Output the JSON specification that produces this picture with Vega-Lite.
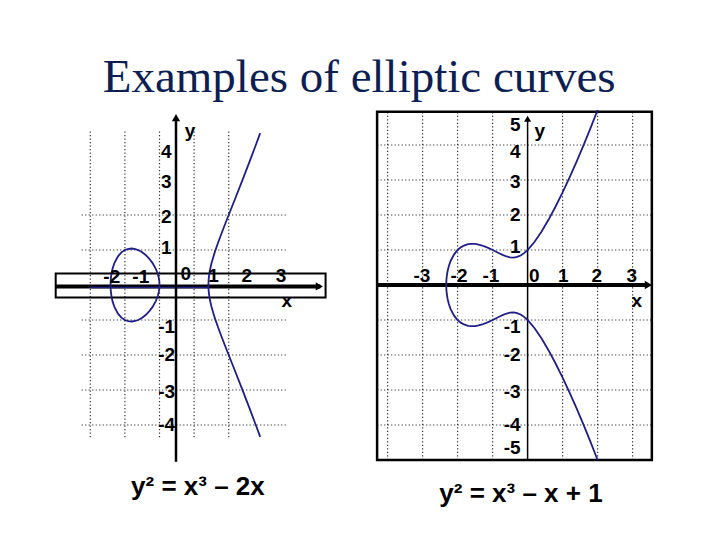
{
  "$schema": "https://vega.github.io/schema/vega-lite/v6.json",
  "width": 720,
  "height": 540,
  "autosize": {"type": "fit", "contains": "padding"},
  "padding": 0,
  "background": "white",
  "config": {
    "view": {"stroke": null},
    "text": {"font": "Liberation Sans", "fontWeight": "bold", "fontSize": 19, "color": "black"}
  },
  "datasets": {
    "curveL": [
      {"p": "oval", "i": 0, "x": -1.4142, "y": 0},
      {"p": "oval", "i": 1, "x": -1.41, "y": 0.1295},
      {"p": "oval", "i": 2, "x": -1.4, "y": 0.2366},
      {"p": "oval", "i": 3, "x": -1.38, "y": 0.3632},
      {"p": "oval", "i": 4, "x": -1.35, "y": 0.4895},
      {"p": "oval", "i": 5, "x": -1.3, "y": 0.6348},
      {"p": "oval", "i": 6, "x": -1.2, "y": 0.8198},
      {"p": "oval", "i": 7, "x": -1.1, "y": 0.9322},
      {"p": "oval", "i": 8, "x": -1.0, "y": 1.0},
      {"p": "oval", "i": 9, "x": -0.9, "y": 1.0349},
      {"p": "oval", "i": 10, "x": -0.8, "y": 1.0431},
      {"p": "oval", "i": 11, "x": -0.7, "y": 1.0281},
      {"p": "oval", "i": 12, "x": -0.6, "y": 0.992},
      {"p": "oval", "i": 13, "x": -0.5, "y": 0.9354},
      {"p": "oval", "i": 14, "x": -0.4, "y": 0.8579},
      {"p": "oval", "i": 15, "x": -0.3, "y": 0.757},
      {"p": "oval", "i": 16, "x": -0.2, "y": 0.6261},
      {"p": "oval", "i": 17, "x": -0.1, "y": 0.4461},
      {"p": "oval", "i": 18, "x": -0.05, "y": 0.316},
      {"p": "oval", "i": 19, "x": -0.02, "y": 0.2},
      {"p": "oval", "i": 20, "x": -0.005, "y": 0.1},
      {"p": "oval", "i": 21, "x": 0, "y": 0},
      {"p": "oval", "i": 22, "x": -0.005, "y": -0.1},
      {"p": "oval", "i": 23, "x": -0.02, "y": -0.2},
      {"p": "oval", "i": 24, "x": -0.05, "y": -0.316},
      {"p": "oval", "i": 25, "x": -0.1, "y": -0.4461},
      {"p": "oval", "i": 26, "x": -0.2, "y": -0.6261},
      {"p": "oval", "i": 27, "x": -0.3, "y": -0.757},
      {"p": "oval", "i": 28, "x": -0.4, "y": -0.8579},
      {"p": "oval", "i": 29, "x": -0.5, "y": -0.9354},
      {"p": "oval", "i": 30, "x": -0.6, "y": -0.992},
      {"p": "oval", "i": 31, "x": -0.7, "y": -1.0281},
      {"p": "oval", "i": 32, "x": -0.8, "y": -1.0431},
      {"p": "oval", "i": 33, "x": -0.9, "y": -1.0349},
      {"p": "oval", "i": 34, "x": -1.0, "y": -1.0},
      {"p": "oval", "i": 35, "x": -1.1, "y": -0.9322},
      {"p": "oval", "i": 36, "x": -1.2, "y": -0.8198},
      {"p": "oval", "i": 37, "x": -1.3, "y": -0.6348},
      {"p": "oval", "i": 38, "x": -1.35, "y": -0.4895},
      {"p": "oval", "i": 39, "x": -1.38, "y": -0.3632},
      {"p": "oval", "i": 40, "x": -1.4, "y": -0.2366},
      {"p": "oval", "i": 41, "x": -1.41, "y": -0.1295},
      {"p": "oval", "i": 42, "x": -1.4142, "y": 0},
      {"p": "branch", "i": 0, "x": 2.91, "y": -4.3385},
      {"p": "branch", "i": 1, "x": 2.8, "y": -4.0438},
      {"p": "branch", "i": 2, "x": 2.6, "y": -3.518},
      {"p": "branch", "i": 3, "x": 2.4, "y": -3.004},
      {"p": "branch", "i": 4, "x": 2.2, "y": -2.4996},
      {"p": "branch", "i": 5, "x": 2.0, "y": -2.0},
      {"p": "branch", "i": 6, "x": 1.9, "y": -1.749},
      {"p": "branch", "i": 7, "x": 1.8, "y": -1.494},
      {"p": "branch", "i": 8, "x": 1.7, "y": -1.23},
      {"p": "branch", "i": 9, "x": 1.6, "y": -0.9466},
      {"p": "branch", "i": 10, "x": 1.5, "y": -0.6124},
      {"p": "branch", "i": 11, "x": 1.45, "y": -0.3855},
      {"p": "branch", "i": 12, "x": 1.43, "y": -0.2534},
      {"p": "branch", "i": 13, "x": 1.42, "y": -0.1526},
      {"p": "branch", "i": 14, "x": 1.415, "y": -0.0561},
      {"p": "branch", "i": 15, "x": 1.4142, "y": 0},
      {"p": "branch", "i": 16, "x": 1.415, "y": 0.0561},
      {"p": "branch", "i": 17, "x": 1.42, "y": 0.1526},
      {"p": "branch", "i": 18, "x": 1.43, "y": 0.2534},
      {"p": "branch", "i": 19, "x": 1.45, "y": 0.3855},
      {"p": "branch", "i": 20, "x": 1.5, "y": 0.6124},
      {"p": "branch", "i": 21, "x": 1.6, "y": 0.9466},
      {"p": "branch", "i": 22, "x": 1.7, "y": 1.23},
      {"p": "branch", "i": 23, "x": 1.8, "y": 1.494},
      {"p": "branch", "i": 24, "x": 1.9, "y": 1.749},
      {"p": "branch", "i": 25, "x": 2.0, "y": 2.0},
      {"p": "branch", "i": 26, "x": 2.2, "y": 2.4996},
      {"p": "branch", "i": 27, "x": 2.4, "y": 3.004},
      {"p": "branch", "i": 28, "x": 2.6, "y": 3.518},
      {"p": "branch", "i": 29, "x": 2.8, "y": 4.0438},
      {"p": "branch", "i": 30, "x": 2.91, "y": 4.3385}
    ],
    "curveR": [
      {"i": 0, "x": 2.0, "y": -5.0},
      {"i": 1, "x": 1.8, "y": -4.4891},
      {"i": 2, "x": 1.6, "y": -3.997},
      {"i": 3, "x": 1.4, "y": -3.5248},
      {"i": 4, "x": 1.2, "y": -3.0737},
      {"i": 5, "x": 1.0, "y": -2.6458},
      {"i": 6, "x": 0.8, "y": -2.2432},
      {"i": 7, "x": 0.6, "y": -1.8698},
      {"i": 8, "x": 0.4, "y": -1.531},
      {"i": 9, "x": 0.2, "y": -1.2361},
      {"i": 10, "x": 0.0, "y": -1.0},
      {"i": 11, "x": -0.1, "y": -0.9105},
      {"i": 12, "x": -0.2, "y": -0.8438},
      {"i": 13, "x": -0.3, "y": -0.8019},
      {"i": 14, "x": -0.4, "y": -0.7849},
      {"i": 15, "x": -0.5, "y": -0.7906},
      {"i": 16, "x": -0.6, "y": -0.8149},
      {"i": 17, "x": -0.7, "y": -0.8526},
      {"i": 18, "x": -0.8, "y": -0.8989},
      {"i": 19, "x": -0.9, "y": -0.9492},
      {"i": 20, "x": -1.0, "y": -1.0},
      {"i": 21, "x": -1.1, "y": -1.0483},
      {"i": 22, "x": -1.2, "y": -1.0918},
      {"i": 23, "x": -1.3, "y": -1.1283},
      {"i": 24, "x": -1.4, "y": -1.1559},
      {"i": 25, "x": -1.5, "y": -1.1726},
      {"i": 26, "x": -1.6, "y": -1.1764},
      {"i": 27, "x": -1.7, "y": -1.1649},
      {"i": 28, "x": -1.8, "y": -1.1349},
      {"i": 29, "x": -1.9, "y": -1.0821},
      {"i": 30, "x": -2.0, "y": -1.0},
      {"i": 31, "x": -2.1, "y": -0.8769},
      {"i": 32, "x": -2.2, "y": -0.687},
      {"i": 33, "x": -2.25, "y": -0.5449},
      {"i": 34, "x": -2.29, "y": -0.3786},
      {"i": 35, "x": -2.31, "y": -0.2488},
      {"i": 36, "x": -2.32, "y": -0.1415},
      {"i": 37, "x": -2.3247, "y": 0},
      {"i": 38, "x": -2.32, "y": 0.1415},
      {"i": 39, "x": -2.31, "y": 0.2488},
      {"i": 40, "x": -2.29, "y": 0.3786},
      {"i": 41, "x": -2.25, "y": 0.5449},
      {"i": 42, "x": -2.2, "y": 0.687},
      {"i": 43, "x": -2.1, "y": 0.8769},
      {"i": 44, "x": -2.0, "y": 1.0},
      {"i": 45, "x": -1.9, "y": 1.0821},
      {"i": 46, "x": -1.8, "y": 1.1349},
      {"i": 47, "x": -1.7, "y": 1.1649},
      {"i": 48, "x": -1.6, "y": 1.1764},
      {"i": 49, "x": -1.5, "y": 1.1726},
      {"i": 50, "x": -1.4, "y": 1.1559},
      {"i": 51, "x": -1.3, "y": 1.1283},
      {"i": 52, "x": -1.2, "y": 1.0918},
      {"i": 53, "x": -1.1, "y": 1.0483},
      {"i": 54, "x": -1.0, "y": 1.0},
      {"i": 55, "x": -0.9, "y": 0.9492},
      {"i": 56, "x": -0.8, "y": 0.8989},
      {"i": 57, "x": -0.7, "y": 0.8526},
      {"i": 58, "x": -0.6, "y": 0.8149},
      {"i": 59, "x": -0.5, "y": 0.7906},
      {"i": 60, "x": -0.4, "y": 0.7849},
      {"i": 61, "x": -0.3, "y": 0.8019},
      {"i": 62, "x": -0.2, "y": 0.8438},
      {"i": 63, "x": -0.1, "y": 0.9105},
      {"i": 64, "x": 0.0, "y": 1.0},
      {"i": 65, "x": 0.2, "y": 1.2361},
      {"i": 66, "x": 0.4, "y": 1.531},
      {"i": 67, "x": 0.6, "y": 1.8698},
      {"i": 68, "x": 0.8, "y": 2.2432},
      {"i": 69, "x": 1.0, "y": 2.6458},
      {"i": 70, "x": 1.2, "y": 3.0737},
      {"i": 71, "x": 1.4, "y": 3.5248},
      {"i": 72, "x": 1.6, "y": 3.997},
      {"i": 73, "x": 1.8, "y": 4.4891},
      {"i": 74, "x": 2.0, "y": 5.0}
    ],
    "gridL": [
      {"x": -2, "x2": -2, "y": -4.35, "y2": 4.4},
      {"x": -1, "x2": -1, "y": -4.35, "y2": 4.4},
      {"x": 0, "x2": 0, "y": -4.35, "y2": 4.4},
      {"x": 1, "x2": 1, "y": -4.35, "y2": 4.4},
      {"x": 2, "x2": 2, "y": -4.35, "y2": 4.4},
      {"x": -2.25, "x2": 3.7, "y": 2, "y2": 2},
      {"x": -2.25, "x2": 3.7, "y": 1, "y2": 1},
      {"x": -2.25, "x2": 3.7, "y": -1, "y2": -1},
      {"x": -2.25, "x2": 3.7, "y": -2, "y2": -2},
      {"x": -2.25, "x2": 3.7, "y": -3, "y2": -3},
      {"x": -2.25, "x2": 3.7, "y": -4, "y2": -4}
    ],
    "gridR": [
      {"x": -4, "x2": -4, "y": -5, "y2": 4.95},
      {"x": -3, "x2": -3, "y": -5, "y2": 4.95},
      {"x": -2, "x2": -2, "y": -5, "y2": 4.95},
      {"x": -1, "x2": -1, "y": -5, "y2": 4.95},
      {"x": 1, "x2": 1, "y": -5, "y2": 4.95},
      {"x": 2, "x2": 2, "y": -5, "y2": 4.95},
      {"x": 3, "x2": 3, "y": -5, "y2": 4.95},
      {"x": -4.3, "x2": 3.55, "y": 4, "y2": 4},
      {"x": -4.3, "x2": 3.55, "y": 3, "y2": 3},
      {"x": -4.3, "x2": 3.55, "y": 2, "y2": 2},
      {"x": -4.3, "x2": 3.55, "y": 1, "y2": 1},
      {"x": -4.3, "x2": 3.55, "y": -1, "y2": -1},
      {"x": -4.3, "x2": 3.55, "y": -2, "y2": -2},
      {"x": -4.3, "x2": 3.55, "y": -3, "y2": -3},
      {"x": -4.3, "x2": 3.55, "y": -4, "y2": -4}
    ],
    "labelsL": [
      {"t": "-2", "x": -1.38, "y": 0.05},
      {"t": "-1", "x": -0.54, "y": 0.05},
      {"t": "0", "x": 0.76, "y": 0.14},
      {"t": "1", "x": 1.56, "y": 0.09},
      {"t": "2", "x": 2.52, "y": 0.09},
      {"t": "3", "x": 3.51, "y": 0.09},
      {"t": "x", "x": 3.68, "y": -0.64},
      {"t": "y", "x": 0.88, "y": 4.23}
    ],
    "ticksL": [
      {"t": "4", "x": 0.35, "y": 3.81},
      {"t": "3", "x": 0.35, "y": 2.95},
      {"t": "2", "x": 0.35, "y": 1.95},
      {"t": "1", "x": 0.35, "y": 1.05},
      {"t": "-1", "x": 0.45, "y": -1.19},
      {"t": "-2", "x": 0.45, "y": -2.0},
      {"t": "-3", "x": 0.45, "y": -3.05},
      {"t": "-4", "x": 0.45, "y": -4.0}
    ],
    "labelsR": [
      {"t": "-3", "x": -3.02, "y": 0.09},
      {"t": "-2", "x": -1.96, "y": 0.09},
      {"t": "-1", "x": -1.05, "y": 0.09},
      {"t": "0", "x": 0.19, "y": 0.09},
      {"t": "1", "x": 1.02, "y": 0.09},
      {"t": "2", "x": 1.98, "y": 0.09},
      {"t": "3", "x": 2.98, "y": 0.09},
      {"t": "x", "x": 3.12, "y": -0.62},
      {"t": "y", "x": 0.35, "y": 4.22}
    ],
    "ticksR": [
      {"t": "5", "x": -0.2, "y": 4.57},
      {"t": "4", "x": -0.2, "y": 3.81},
      {"t": "3", "x": -0.2, "y": 2.95},
      {"t": "2", "x": -0.2, "y": 2.0},
      {"t": "1", "x": -0.2, "y": 1.09},
      {"t": "-1", "x": -0.2, "y": -1.19},
      {"t": "-2", "x": -0.2, "y": -2.0},
      {"t": "-3", "x": -0.2, "y": -3.05},
      {"t": "-4", "x": -0.2, "y": -4.0},
      {"t": "-5", "x": -0.2, "y": -4.67}
    ]
  },
  "layer": [
    {
      "encoding": {
        "x": {"field": "x", "type": "quantitative", "scale": {"domain": [-4.6098, 16.1994], "nice": false, "zero": false}, "axis": null},
        "y": {"field": "y", "type": "quantitative", "scale": {"domain": [-7.2857, 8.1429], "nice": false, "zero": false}, "axis": null}
      },
      "layer": [
        {
          "data": {"name": "gridL"},
          "mark": {"type": "rule", "color": "#333333", "strokeWidth": 1.2, "strokeDash": [1.2, 2.3]},
          "encoding": {"x2": {"field": "x2"}, "y2": {"field": "y2"}}
        },
        {
          "data": {"values": [{"x": -3, "x2": 4.8, "y": -0.36, "y2": 0.33}]},
          "mark": {"type": "rect", "fillOpacity": 0, "stroke": "black", "strokeWidth": 2},
          "encoding": {"x2": {"field": "x2"}, "y2": {"field": "y2"}}
        },
        {
          "data": {"values": [{"x": -3, "x2": 4.65, "y": -0.04, "y2": -0.04}]},
          "mark": {"type": "rule", "color": "black", "strokeWidth": 4},
          "encoding": {"x2": {"field": "x2"}, "y2": {"field": "y2"}}
        },
        {
          "data": {"values": [{"x": -2.0, "x2": 1.414, "y": -0.07, "y2": -0.07}]},
          "mark": {"type": "rule", "color": "#1f1f87", "strokeWidth": 1.5},
          "encoding": {"x2": {"field": "x2"}, "y2": {"field": "y2"}}
        },
        {
          "data": {"values": [{"x": 0.477, "x2": 0.477, "y": -5.05, "y2": 4.78}]},
          "mark": {"type": "rule", "color": "black", "strokeWidth": 2.5},
          "encoding": {"x2": {"field": "x2"}, "y2": {"field": "y2"}}
        },
        {
          "data": {"values": [{"x": 4.62, "y": -0.04}]},
          "mark": {"type": "point", "shape": "triangle-right", "filled": true, "color": "black", "size": 70, "opacity": 1}
        },
        {
          "data": {"values": [{"x": 0.477, "y": 4.78}]},
          "mark": {"type": "point", "shape": "triangle-up", "filled": true, "color": "black", "size": 70, "opacity": 1}
        },
        {
          "data": {"name": "curveL"},
          "mark": {"type": "line", "color": "#1f1f87", "strokeWidth": 1.8},
          "encoding": {"detail": {"field": "p"}, "order": {"field": "i", "type": "quantitative"}}
        },
        {
          "data": {"name": "labelsL"},
          "mark": {"type": "text", "align": "center", "baseline": "alphabetic"},
          "encoding": {"text": {"field": "t"}}
        },
        {
          "data": {"name": "ticksL"},
          "mark": {"type": "text", "align": "right", "baseline": "middle"},
          "encoding": {"text": {"field": "t"}}
        },
        {
          "data": {"values": [{"t": "y² = x³ – 2x", "x": 1.11, "y": -6.0}]},
          "mark": {"type": "text", "align": "center", "baseline": "alphabetic", "fontSize": 26},
          "encoding": {"text": {"field": "t"}}
        },
        {
          "data": {"values": [{"t": "Examples of elliptic curves", "x": 5.77, "y": 5.51}]},
          "mark": {"type": "text", "align": "center", "baseline": "alphabetic", "font": "Liberation Serif", "fontWeight": "normal", "fontSize": 47, "color": "#0d1f52"},
          "encoding": {"text": {"field": "t"}}
        }
      ]
    },
    {
      "encoding": {
        "x": {"field": "x", "type": "quantitative", "scale": {"domain": [-15.0743, 5.4971], "nice": false, "zero": false}, "axis": null},
        "y": {"field": "y", "type": "quantitative", "scale": {"domain": [-7.2857, 8.1429], "nice": false, "zero": false}, "axis": null}
      },
      "layer": [
        {
          "data": {"name": "gridR"},
          "mark": {"type": "rule", "color": "#333333", "strokeWidth": 1.2, "strokeDash": [1.2, 2.3]},
          "encoding": {"x2": {"field": "x2"}, "y2": {"field": "y2"}}
        },
        {
          "data": {"values": [{"x": -4.3, "x2": 3.55, "y": -5, "y2": 4.95}]},
          "mark": {"type": "rect", "fillOpacity": 0, "stroke": "black", "strokeWidth": 2.5},
          "encoding": {"x2": {"field": "x2"}, "y2": {"field": "y2"}}
        },
        {
          "data": {"values": [{"x": -4.3, "x2": 3.45, "y": 0, "y2": 0}]},
          "mark": {"type": "rule", "color": "black", "strokeWidth": 4},
          "encoding": {"x2": {"field": "x2"}, "y2": {"field": "y2"}}
        },
        {
          "data": {"values": [{"x": 0, "x2": 0, "y": -5, "y2": 4.75}]},
          "mark": {"type": "rule", "color": "black", "strokeWidth": 1.5},
          "encoding": {"x2": {"field": "x2"}, "y2": {"field": "y2"}}
        },
        {
          "data": {"values": [{"x": 3.45, "y": 0}]},
          "mark": {"type": "point", "shape": "triangle-right", "filled": true, "color": "black", "size": 70, "opacity": 1}
        },
        {
          "data": {"values": [{"x": 0, "y": 4.75}]},
          "mark": {"type": "point", "shape": "triangle-up", "filled": true, "color": "black", "size": 50, "opacity": 1}
        },
        {
          "data": {"name": "curveR"},
          "mark": {"type": "line", "color": "#1f1f87", "strokeWidth": 1.8},
          "encoding": {"order": {"field": "i", "type": "quantitative"}}
        },
        {
          "data": {"name": "labelsR"},
          "mark": {"type": "text", "align": "center", "baseline": "alphabetic"},
          "encoding": {"text": {"field": "t"}}
        },
        {
          "data": {"name": "ticksR"},
          "mark": {"type": "text", "align": "right", "baseline": "middle"},
          "encoding": {"text": {"field": "t"}}
        },
        {
          "data": {"values": [{"t": "y² = x³ – x + 1", "x": -0.19, "y": -6.19}]},
          "mark": {"type": "text", "align": "center", "baseline": "alphabetic", "fontSize": 26},
          "encoding": {"text": {"field": "t"}}
        }
      ]
    }
  ],
  "resolve": {"scale": {"x": "independent", "y": "independent"}}
}
